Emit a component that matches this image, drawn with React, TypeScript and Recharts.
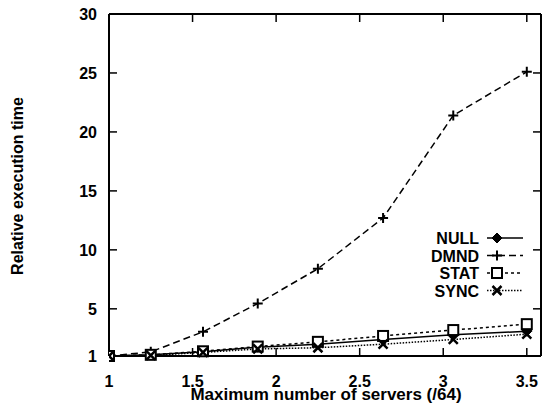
import React from 'react';
import { LineChart, Line, XAxis, YAxis, ReferenceLine } from 'recharts';

// servers (/64) and relative execution time per policy
const servers = [1, 1.25, 1.5625, 1.89, 2.25, 2.64, 3.06, 3.5];
const nullTimes = [1, 1.1, 1.35, 1.75, 2.0, 2.4, 2.8, 3.1];
const dmndTimes = [1, 1.35, 3.05, 5.45, 8.4, 12.7, 21.4, 25.1];
const statTimes = [1, 1.1, 1.4, 1.8, 2.2, 2.7, 3.2, 3.7];
const syncTimes = [1, 1.05, 1.3, 1.6, 1.7, 2.0, 2.4, 2.85];

const xTicks = [1, 1.5, 2, 2.5, 3, 3.5];
const yTicks = [1, 5, 10, 15, 20, 25, 30];

const data = servers.map((s, i) => ({
  s,
  NULL: nullTimes[i],
  DMND: dmndTimes[i],
  STAT: statTimes[i],
  SYNC: syncTimes[i],
}));

const FONT = '"Liberation Sans", Arial, Helvetica, sans-serif';
const X_DOMAIN: [number, number] = [1, 3.585];
const Y_DOMAIN: [number, number] = [1, 30];
// inward tick length (~8px) in data units
const X_TICK_LEN = 0.68;
const Y_TICK_LEN = 0.048;

const Marker = ({ kind, cx, cy }: { kind: string; cx: number; cy: number }) => {
  if (kind === 'NULL') {
    const r = 5;
    return <path d={`M${cx},${cy - r}L${cx + r},${cy}L${cx},${cy + r}L${cx - r},${cy}Z`} fill="#000" stroke="#000" />;
  }
  if (kind === 'DMND') {
    const r = 5;
    return <path d={`M${cx - r},${cy}H${cx + r}M${cx},${cy - r}V${cy + r}`} stroke="#000" strokeWidth={2} fill="none" />;
  }
  if (kind === 'STAT') {
    const r = 5;
    return <rect x={cx - r} y={cy - r} width={2 * r} height={2 * r} fill="#fff" stroke="#000" strokeWidth={2} />;
  }
  const r = 4.5;
  return <path d={`M${cx - r},${cy - r}L${cx + r},${cy + r}M${cx + r},${cy - r}L${cx - r},${cy + r}`} stroke="#000" strokeWidth={2.5} fill="none" />;
};

const dotFor = (kind: string) => (p: any) => <Marker key={`${kind}-${p.index}`} kind={kind} cx={p.cx} cy={p.cy} />;

const seriesList = [
  { key: 'NULL', dash: undefined },
  { key: 'DMND', dash: '7 4' },
  { key: 'STAT', dash: '3 3' },
  { key: 'SYNC', dash: '1.5 1.5' },
];

const textStyle = { fontFamily: FONT, fontWeight: 'bold', fontSize: 16, fill: '#000' };

const LegendBox = () => (
  <svg width={160} height={80}>
    {seriesList.map((s, i) => {
      const y = 10 + i * 17.5;
      return (
        <g key={s.key}>
          <text x={99} y={y + 6} textAnchor="end" fontFamily={FONT} fontWeight="bold" fontSize={16} fill="#000">
            {s.key}
          </text>
          <line x1={107} x2={143} y1={y} y2={y} stroke="#000" strokeWidth={1.5} strokeDasharray={s.dash} />
          <Marker kind={s.key} cx={117} cy={y} />
        </g>
      );
    })}
  </svg>
);

// axis titles
const Titles = () => (
  <svg width={542} height={409} style={{ position: 'absolute', left: 0, top: 0, pointerEvents: 'none' }}>
    <text
      x={23}
      y={186}
      transform="rotate(-90 23 186)"
      textAnchor="middle"
      fontFamily={FONT}
      fontWeight="bold"
      fontSize={16}
      fill="#000"
    >
      Relative execution time
    </text>
    <text x={326} y={400} textAnchor="middle" fontFamily={FONT} fontWeight="bold" fontSize={17} fill="#000">
      Maximum number of servers (/64)
    </text>
  </svg>
);

export default function App() {
  const axisLine = { stroke: '#000', strokeWidth: 2 };
  const tickMark = { stroke: '#000', strokeWidth: 1.5 };
  return (
    <div style={{ position: 'absolute', left: 0, top: 0, width: 542, height: 409 }}>
      <LineChart width={542} height={409} data={data} margin={{ top: 14, right: 1, bottom: 0, left: 0 }}>
        <XAxis
          dataKey="s"
          type="number"
          domain={X_DOMAIN}
          ticks={xTicks}
          allowDataOverflow
          height={53}
          tickSize={0}
          tickMargin={16}
          tick={{ ...textStyle, dy: 4 }}
          tickLine={false}
          axisLine={axisLine}
        />
        <YAxis
          yAxisId="l"
          type="number"
          domain={Y_DOMAIN}
          ticks={yTicks}
          width={109}
          tickSize={0}
          tickMargin={12}
          tick={textStyle}
          tickLine={false}
          axisLine={axisLine}
        />
        <ReferenceLine yAxisId="l" y={Y_DOMAIN[1]} stroke="#000" strokeWidth={2} ifOverflow="visible" />
        <ReferenceLine yAxisId="l" x={X_DOMAIN[1]} stroke="#000" strokeWidth={2} ifOverflow="visible" />
        {xTicks.map((t) => (
          <ReferenceLine
            key={`b${t}`}
            yAxisId="l"
            segment={[{ x: t, y: Y_DOMAIN[0] }, { x: t, y: Y_DOMAIN[0] + X_TICK_LEN }]}
            {...tickMark}
            ifOverflow="visible"
          />
        ))}
        {xTicks.map((t) => (
          <ReferenceLine
            key={`t${t}`}
            yAxisId="l"
            segment={[{ x: t, y: Y_DOMAIN[1] }, { x: t, y: Y_DOMAIN[1] - X_TICK_LEN }]}
            {...tickMark}
            ifOverflow="visible"
          />
        ))}
        {yTicks.map((t) => (
          <ReferenceLine
            key={`l${t}`}
            yAxisId="l"
            segment={[{ x: X_DOMAIN[0], y: t }, { x: X_DOMAIN[0] + Y_TICK_LEN, y: t }]}
            {...tickMark}
            ifOverflow="visible"
          />
        ))}
        {yTicks.map((t) => (
          <ReferenceLine
            key={`r${t}`}
            yAxisId="l"
            segment={[{ x: X_DOMAIN[1], y: t }, { x: X_DOMAIN[1] - Y_TICK_LEN, y: t }]}
            {...tickMark}
            ifOverflow="visible"
          />
        ))}
        {seriesList.map((s) => (
          <Line
            key={s.key}
            yAxisId="l"
            type="linear"
            dataKey={s.key}
            stroke="#000"
            strokeWidth={1.5}
            strokeDasharray={s.dash}
            dot={dotFor(s.key)}
            isAnimationActive={false}
          />
        ))}
      </LineChart>
      <Titles />
      <div style={{ position: 'absolute', left: 380, top: 228 }}>
        <LegendBox />
      </div>
    </div>
  );
}
